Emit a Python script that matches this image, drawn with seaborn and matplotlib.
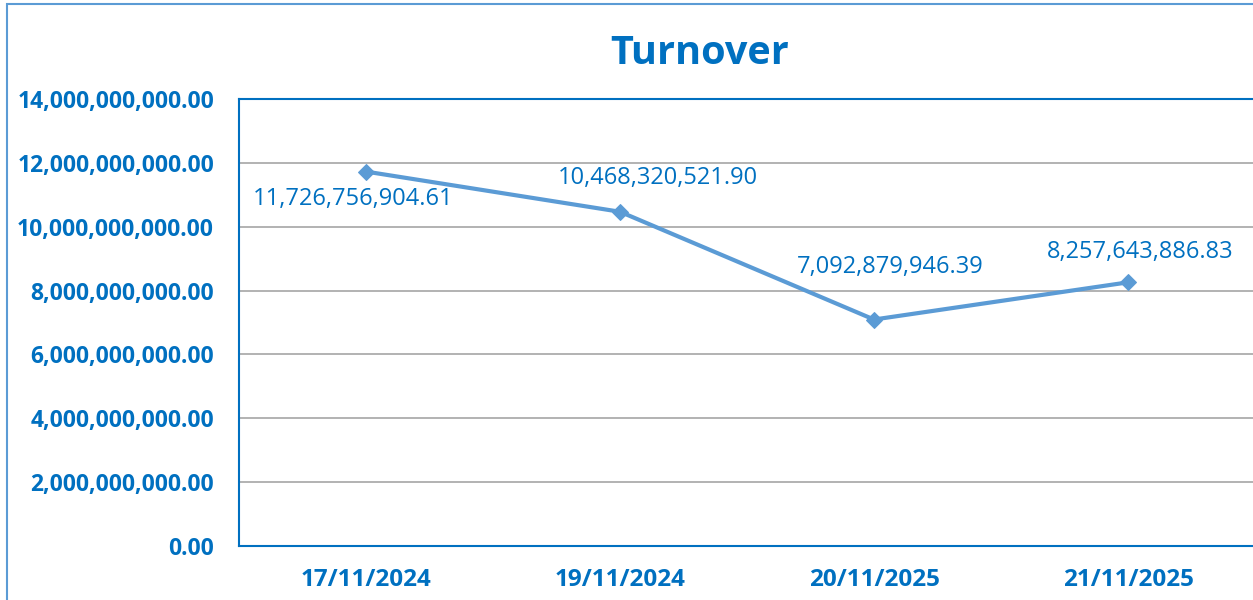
import matplotlib
matplotlib.use("Agg")
import matplotlib.pyplot as plt
import seaborn as sns
import pandas as pd
from matplotlib.patches import Rectangle
from matplotlib.ticker import FuncFormatter, MultipleLocator

dates = ["17/11/2024", "19/11/2024", "20/11/2025", "21/11/2025"]
turnover = [11726756904.61, 10468320521.90, 7092879946.39, 8257643886.83]
label_text = ["11,726,756,904.61", "10,468,320,521.90", "7,092,879,946.39", "8,257,643,886.83"]
# label offsets in points (dx, dy)
label_offsets = [(-9, -20), (27, 24), (12, 38), (9, 22)]

df = pd.DataFrame({"date": dates, "turnover": turnover})

sns.set_style("white")
plt.rcParams["font.family"] = ["Open Sans", "DejaVu Sans"]

blue = "#0070C0"
line_blue = "#5B9BD5"

fig = plt.figure(figsize=(12.53, 6), dpi=100)
ax = fig.add_axes([239 / 1253, 54 / 600, (1255 - 239) / 1253, (546 - 99) / 600])

fig.patches.append(Rectangle((7 / 1253, -0.1), 1.2, 1 - 4 / 600 + 0.1, transform=fig.transFigure,
                             fill=False, edgecolor=line_blue, linewidth=1.5, clip_on=False))

sns.lineplot(data=df, x="date", y="turnover", ax=ax, color=line_blue, linewidth=3,
             marker="D", markersize=8, markeredgecolor=line_blue, sort=False)

ax.set_xlim(-0.5, 3.5)
ax.set_ylim(0, 14e9)
ax.yaxis.set_major_locator(MultipleLocator(2e9))
ax.yaxis.set_major_formatter(FuncFormatter(lambda v, p: f"{v:,.2f}"))
ax.grid(axis="y", color="#A6A6A6", linewidth=1.2)
ax.set_axisbelow(True)

for name, sp in ax.spines.items():
    sp.set_color(blue)
    sp.set_linewidth(1.5)
ax.spines["right"].set_visible(False)

ax.tick_params(axis="both", length=0, labelcolor=blue)
ax.tick_params(axis="y", pad=18, labelsize=16.5)
ax.tick_params(axis="x", pad=16, labelsize=17.5)
for t in ax.get_xticklabels() + ax.get_yticklabels():
    t.set_fontweight("bold")
ax.set_xlabel("")
ax.set_ylabel("")

for i, (txt, off) in enumerate(zip(label_text, label_offsets)):
    ax.annotate(txt, (i, turnover[i]), xytext=off, textcoords="offset points",
                ha="center", va="center", color=blue, fontsize=17)

fig.text(700 / 1253, 1 - 54 / 600, "Turnover", ha="center", va="center",
         color=blue, fontsize=28.5, fontweight="bold")

fig.savefig("out.png", dpi=100)
